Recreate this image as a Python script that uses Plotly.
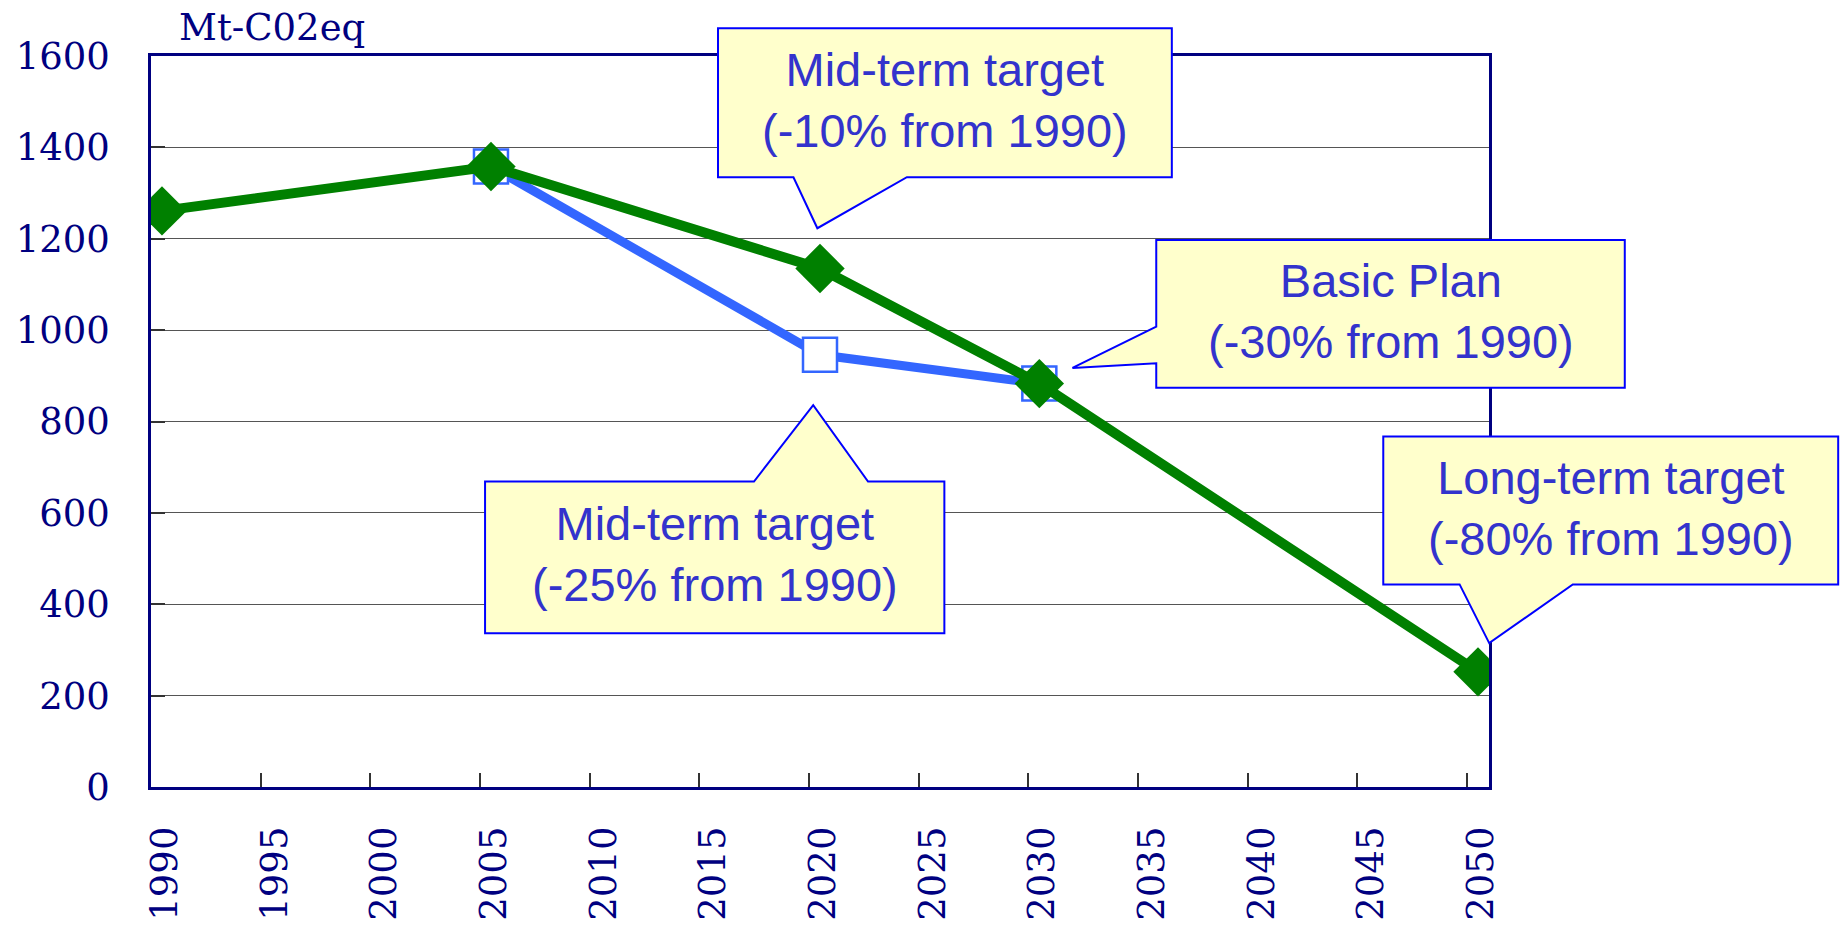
import plotly.graph_objects as go

# ---- data ----
years_target = [1990, 2005, 2020, 2030, 2050]
emissions_target = [1261, 1358, 1135, 883, 252]
years_midterm = [2005, 2020, 2030]
emissions_midterm = [1358, 946, 883]
tick_years = list(range(1990, 2051, 5))
tick_labels = [str(y) for y in tick_years]
y_ticks = [0, 200, 400, 600, 800, 1000, 1200, 1400, 1600]
unit_label = "Mt-C02eq"

callout_texts = [
    "Mid-term target<br>(-10% from 1990)",
    "Mid-term target<br>(-25% from 1990)",
    "Basic Plan<br>(-30% from 1990)",
    "Long-term target<br>(-80% from 1990)",
]

# ---- geometry (data units: year, Mt) ----
X_RANGE = [1989.5, 2050.5]
Y_RANGE = [0, 1600]

def fx(x):
    return (x - X_RANGE[0]) / (X_RANGE[1] - X_RANGE[0])

def fy(y):
    return (y - Y_RANGE[0]) / (Y_RANGE[1] - Y_RANGE[0])

# box: (x0, x1, y_bottom, y_top); tail: (base1, tip, base2)
callouts = [
    dict(box=(2015.35, 2036.04, 1334.7, 1661.0), side="bottom",
         tail=((2023.96, 1334.7), (2019.88, 1223.0), (2018.79, 1334.7))),
    dict(box=(2004.73, 2025.67, 336.6, 668.6), side="top",
         tail=((2016.99, 668.6), (2019.69, 836.0), (2022.19, 668.6))),
    dict(box=(2035.33, 2056.69, 873.6, 1197.1), side="left",
         tail=((2035.33, 927.4), (2031.51, 917.3), (2035.33, 1007.7))),
    dict(box=(2045.68, 2066.42, 443.4, 767.1), side="bottom",
         tail=((2054.32, 443.4), (2050.51, 315.0), (2049.16, 443.4))),
]

def P(x, y):
    return f"{fx(x):.5f},{fy(y):.5f}"

def callout_path(c):
    x0, x1, yb, yt = c["box"]
    b1, tip, b2 = c["tail"]
    if c["side"] == "bottom":
        pts = [(x0, yt), (x1, yt), (x1, yb), b1, tip, b2, (x0, yb)]
    elif c["side"] == "top":
        pts = [(x0, yt), b1, tip, b2, (x1, yt), (x1, yb), (x0, yb)]
    else:  # left
        pts = [(x0, yt), (x1, yt), (x1, yb), (x0, yb), b1, tip, b2]
    return "M " + " L ".join(P(*p) for p in pts) + " Z"

NAVY = "#000080"
serif = "DejaVu Serif"

fig = go.Figure()

fig.add_trace(go.Scatter(
    x=years_midterm, y=emissions_midterm, mode="lines+markers",
    line=dict(color="#3366FF", width=9),
    marker=dict(symbol="square", size=34, color="white",
                line=dict(color="#3366FF", width=2.5)),
    showlegend=False, hoverinfo="x+y"))

fig.add_trace(go.Scatter(
    x=years_target, y=emissions_target, mode="lines+markers",
    line=dict(color="#008000", width=10),
    marker=dict(symbol="diamond", size=38, color="#008000", line=dict(width=0)),
    showlegend=False, hoverinfo="x+y"))

shapes = []
annotations = []
for c, t in zip(callouts, callout_texts):
    shapes.append(dict(type="path", xref="paper", yref="paper", layer="above",
                       path=callout_path(c), fillcolor="#FFFFCC",
                       line=dict(color="#0000FF", width=2)))
    x0, x1, yb, yt = c["box"]
    annotations.append(dict(xref="paper", yref="paper",
                            x=fx((x0 + x1) / 2), y=fy((yb + yt) / 2) + 0.004,
                            text=t, showarrow=False, xanchor="center", yanchor="middle",
                            align="center",
                            font=dict(family="Liberation Sans, Arial", size=47, color="#3333CC")))

annotations.append(dict(xref="paper", yref="paper", x=fx(1990.7), y=fy(1662),
                        text=unit_label, showarrow=False, xanchor="left", yanchor="middle",
                        font=dict(family=serif, size=37, color=NAVY)))

fig.update_layout(
    width=1841, height=927, autosize=False,
    margin=dict(l=151, r=352, t=56, b=140, pad=0),
    paper_bgcolor="white", plot_bgcolor="white",
    shapes=shapes, annotations=annotations,
    xaxis=dict(range=X_RANGE, tickmode="array", automargin=False,
               tickvals=[y - 0.5 for y in tick_years], ticktext=tick_labels,
               tickangle=-90, ticks="inside", ticklen=14, tickwidth=1.5, tickcolor="#333333",
               ticklabelshift=14, ticklabelstandoff=22,
               tickfont=dict(family=serif, size=37, color=NAVY),
               showline=True, linecolor=NAVY, linewidth=2.5, mirror=True,
               showgrid=False, zeroline=False, fixedrange=True),
    yaxis=dict(range=Y_RANGE, tickmode="array", tickvals=y_ticks, automargin=False,
               ticktext=[str(v) for v in y_ticks],
               ticks="inside", ticklen=14, tickwidth=1.5, tickcolor="#333333",
               ticklabelstandoff=31,
               tickfont=dict(family=serif, size=37, color=NAVY),
               showline=True, linecolor=NAVY, linewidth=2.5, mirror=True,
               showgrid=True, gridcolor="#555555", gridwidth=1,
               zeroline=False, fixedrange=True),
)

fig.write_html("out.html", config={"displayModeBar": False},
               post_script="document.body.style.margin='0';document.body.style.overflow='hidden';")
